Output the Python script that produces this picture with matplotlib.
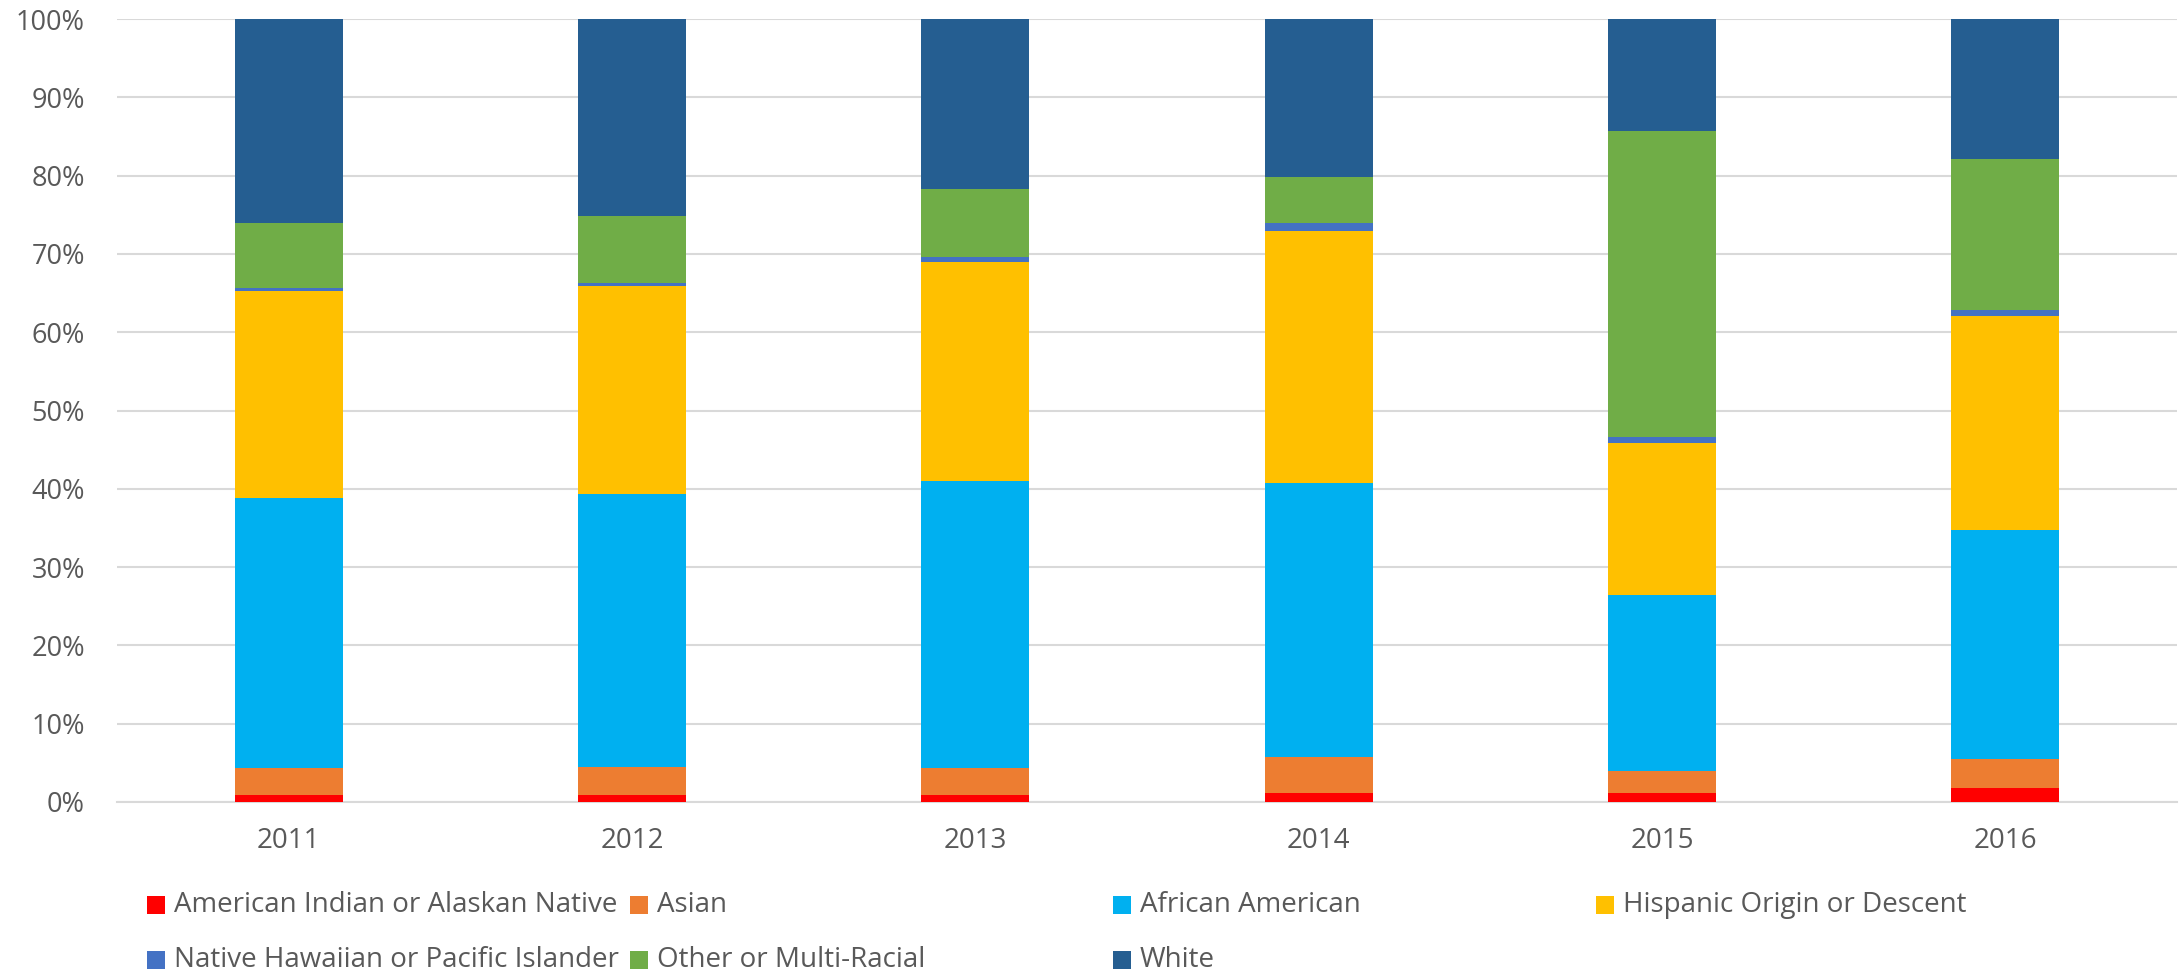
import matplotlib
matplotlib.use("Agg")
import matplotlib.pyplot as plt
from matplotlib.patches import Rectangle
import numpy as np

years = ["2011", "2012", "2013", "2014", "2015", "2016"]
series_names = [
    "American Indian or Alaskan Native",
    "Asian",
    "African American",
    "Hispanic Origin or Descent",
    "Native Hawaiian or Pacific Islander",
    "Other or Multi-Racial",
    "White",
]
american_indian = [0.9, 0.95, 0.9, 1.1, 1.1, 1.75]
asian = [3.5, 3.5, 3.5, 4.6, 2.9, 3.8]
african_american = [34.4, 34.85, 36.6, 35.1, 22.4, 29.2]
hispanic = [26.4, 26.6, 28.0, 32.1, 19.45, 27.3]
native_hawaiian = [0.4, 0.4, 0.6, 1.1, 0.8, 0.8]
other_multi = [8.4, 8.6, 8.7, 5.8, 39.1, 19.3]
white = [26.0, 25.1, 21.7, 20.2, 14.3, 17.8]

colors = ["#FF0000", "#ED7D31", "#00B0F0", "#FFC000", "#4472C4", "#70AD47", "#255E91"]

plt.rcParams['font.family'] = ['Open Sans', 'DejaVu Sans']
fig = plt.figure(figsize=(21.83, 9.74), dpi=100)
ax = fig.add_axes([117/2183, 1-802/974, (2177-117)/2183, (802-19)/974])

data = [american_indian, asian, african_american, hispanic, native_hawaiian, other_multi, white]
x = np.arange(len(years))
bottom = np.zeros(len(years))
for vals, c, name in zip(data, colors, series_names):
    v = np.array(vals, dtype=float)
    ax.bar(x, v, 0.315, bottom=bottom, color=c, label=name, zorder=3, linewidth=0)
    bottom += v

ax.set_xlim(-0.5, len(years) - 0.5)
ax.set_ylim(0, 100)
ax.set_yticks(np.arange(0, 101, 10))
ax.set_yticklabels([f"{t}%" for t in range(0, 101, 10)])
ax.set_xticks(x)
ax.set_xticklabels(years)
ax.tick_params(axis='both', length=0, colors="#595959")
ax.tick_params(axis='y', pad=23, labelsize=19.5)
ax.tick_params(axis='x', pad=18, labelsize=20)
ax.grid(axis='y', color="#D9D9D9", linewidth=1.5, zorder=0)
for s in ["top", "right", "left"]:
    ax.spines[s].set_visible(False)
ax.spines["bottom"].set_color("#D9D9D9")
ax.spines["bottom"].set_linewidth(1.5)

# legend laid out in equal-width columns (two rows)
W, H = 2183, 974
col_x = [147, 630, 1113, 1596]
row_y = [905, 960]
for i, (name, c) in enumerate(zip(series_names, colors)):
    r, cidx = divmod(i, 4)
    mx, my = col_x[cidx], row_y[r]
    fig.patches.append(Rectangle((mx / W, 1 - (my + 9) / H), 18 / W, 18 / H,
                                 transform=fig.transFigure, facecolor=c, edgecolor='none'))
    fig.text((mx + 27) / W, 1 - my / H, name, fontsize=20, color="#595959",
             va='center', ha='left')

fig.savefig("out.png", dpi=100)
